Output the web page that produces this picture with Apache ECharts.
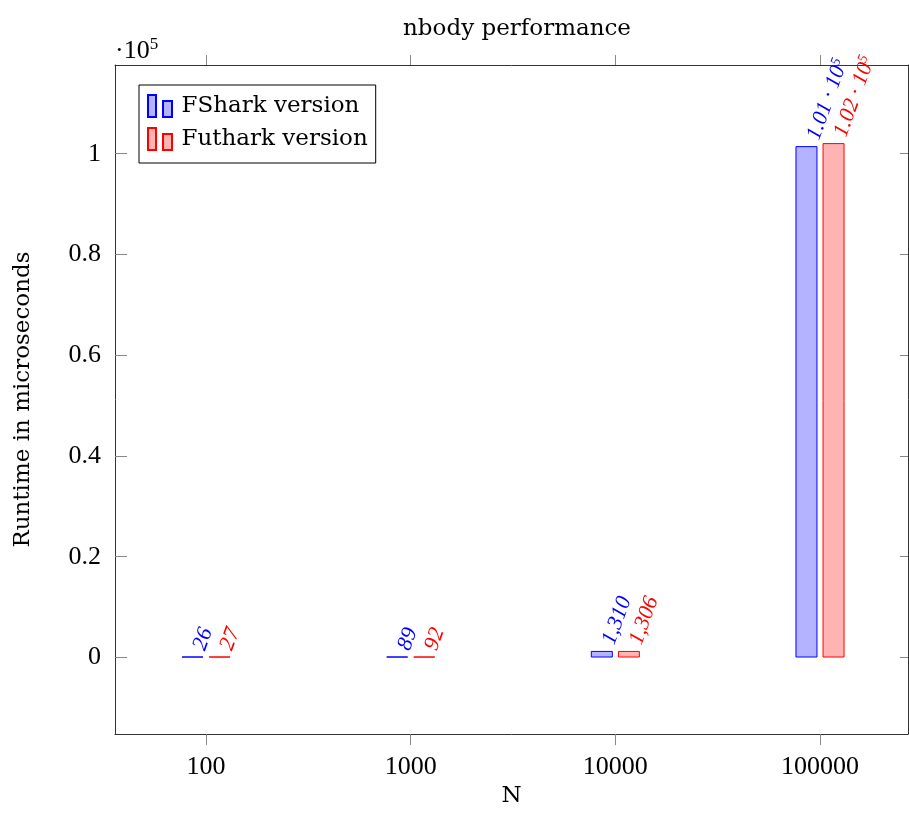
<!DOCTYPE html>
<html>
<head>
<meta charset="utf-8">
<script src="https://cdn.jsdelivr.net/npm/echarts@6/dist/echarts.min.js"></script>
<style>html,body{margin:0;padding:0;background:#fff;overflow:hidden}#c{width:909px;height:813px}</style>
</head>
<body>
<div id="c"></div>
<script>
const categories = ['100', '1000', '10000', '100000'];
const catIndex = [0, 1, 2, 3];
const fshark = [26, 89, 1310, 101500];
const futhark = [27, 92, 1306, 102100];
const yTicks = [0, 20000, 40000, 60000, 80000, 100000];
const seriesNames = ['FShark version', 'Futhark version'];

const NUMFONT = 'Liberation Serif';
const WORDFONT = 'DejaVu Serif';
const chart = echarts.init(document.getElementById('c'), null, {renderer: 'canvas', width: 909, height: 813});

function fmtLabel(p) {
  const v = p.value[1];
  if (v >= 100000) {
    return '{m|' + (v / 100000).toFixed(2) + ' · 10}{s|5}';
  }
  return '{m|' + v.toLocaleString('en-US') + '}';
}

function makeLabel(color) {
  return {
    show: true,
    position: 'top',
    rotate: 70,
    align: 'left',
    verticalAlign: 'middle',
    distance: 0,
    offset: [9, 4],
    formatter: fmtLabel,
    color: color,
    fontFamily: NUMFONT,
    fontStyle: 'italic',
    fontSize: 22,
    rich: {
      m: {color: color, fontFamily: NUMFONT, fontStyle: 'italic', fontSize: 22, lineHeight: 24},
      s: {color: color, fontFamily: NUMFONT, fontStyle: 'italic', fontSize: 14, verticalAlign: 'top', lineHeight: 24}
    }
  };
}

const wordStyle = {fontFamily: WORDFONT, fontSize: 23, color: '#000'};
const iconPath = 'path://M0,0 L8,0 L8,22 L0,22 Z M15,6 L24,6 L24,22 L15,22 Z';

const option = {
  animation: false,
  backgroundColor: '#fff',
  title: {
    text: 'nbody performance',
    left: 512, top: 13, textAlign: 'center',
    textStyle: {fontFamily: WORDFONT, fontSize: 23, fontWeight: 'normal', color: '#000'}
  },
  legend: {
    orient: 'vertical',
    left: 139, top: 85,
    data: seriesNames,
    icon: iconPath,
    itemWidth: 25, itemHeight: 22,
    itemGap: 9,
    padding: [9, 8, 12, 8],
    borderColor: '#000', borderWidth: 1,
    backgroundColor: '#fff',
    textStyle: {fontFamily: WORDFONT, fontSize: 23, color: '#000', padding: [0, 0, 0, 4]}
  },
  graphic: [{
    type: 'text', left: 115, top: 36,
    style: {
      text: '{a|·10}{b|5}',
      rich: {
        a: {fontFamily: NUMFONT, fontSize: 26, fill: '#000', lineHeight: 30},
        b: {fontFamily: NUMFONT, fontSize: 17, fill: '#000', verticalAlign: 'top', lineHeight: 30}
      }
    }
  }],
  grid: {left: 115, width: 793, top: 65, height: 672, containLabel: false},
  xAxis: [{
    type: 'value', position: 'bottom',
    min: -0.445, max: 3.43,
    name: 'N', nameLocation: 'middle', nameGap: 50,
    nameTextStyle: wordStyle,
    axisLine: {show: true, onZero: false, lineStyle: {color: '#333', width: 1}},
    axisTick: {show: true, inside: false, length: 11, customValues: catIndex, lineStyle: {color: '#888', width: 1}},
    axisLabel: {show: true, margin: 20, customValues: catIndex, formatter: v => categories[Math.round(v)], fontFamily: NUMFONT, fontSize: 26, color: '#000'},
    splitLine: {show: false}
  }, {
    type: 'value', position: 'top',
    min: -0.445, max: 3.43,
    axisLine: {show: true, onZero: false, lineStyle: {color: '#333', width: 1}},
    axisTick: {show: true, inside: false, length: 10, customValues: catIndex, lineStyle: {color: '#888', width: 1}},
    axisLabel: {show: false},
    splitLine: {show: false}
  }],
  yAxis: [{
    type: 'value', position: 'left',
    min: -15200, max: 117600,
    name: 'Runtime in microseconds', nameLocation: 'middle', nameGap: 80, nameRotate: 90,
    nameTextStyle: wordStyle,
    axisLine: {show: true, onZero: false, lineStyle: {color: '#333', width: 1}},
    axisTick: {show: true, inside: true, length: 12, customValues: yTicks, lineStyle: {color: '#888', width: 1}},
    axisLabel: {show: true, margin: 14, customValues: yTicks, formatter: v => String(+(v / 100000).toFixed(1)), fontFamily: NUMFONT, fontSize: 26, color: '#000'},
    splitLine: {show: false}
  }, {
    type: 'value', position: 'right',
    min: -15200, max: 117600,
    axisLine: {show: true, onZero: false, lineStyle: {color: '#333', width: 1}},
    axisTick: {show: true, inside: true, length: 8, customValues: yTicks, lineStyle: {color: '#888', width: 1}},
    axisLabel: {show: false},
    splitLine: {show: false}
  }],
  series: [{
    name: seriesNames[0], type: 'bar',
    xAxisIndex: 0, yAxisIndex: 0,
    barWidth: 22, barGap: '23%', barMinHeight: 1,
    data: catIndex.map((i) => [i, fshark[i]]),
    itemStyle: {color: '#b3b3ff', borderColor: '#0000ff', borderWidth: 1},
    label: makeLabel('#0000ff')
  }, {
    name: seriesNames[1], type: 'bar',
    xAxisIndex: 0, yAxisIndex: 0,
    barWidth: 22, barGap: '23%', barMinHeight: 1,
    data: catIndex.map((i) => [i, futhark[i]]),
    itemStyle: {color: '#ffb3b3', borderColor: '#ff0000', borderWidth: 1},
    label: makeLabel('#ff0000')
  }]
};
chart.setOption(option);
</script>
</body>
</html>
